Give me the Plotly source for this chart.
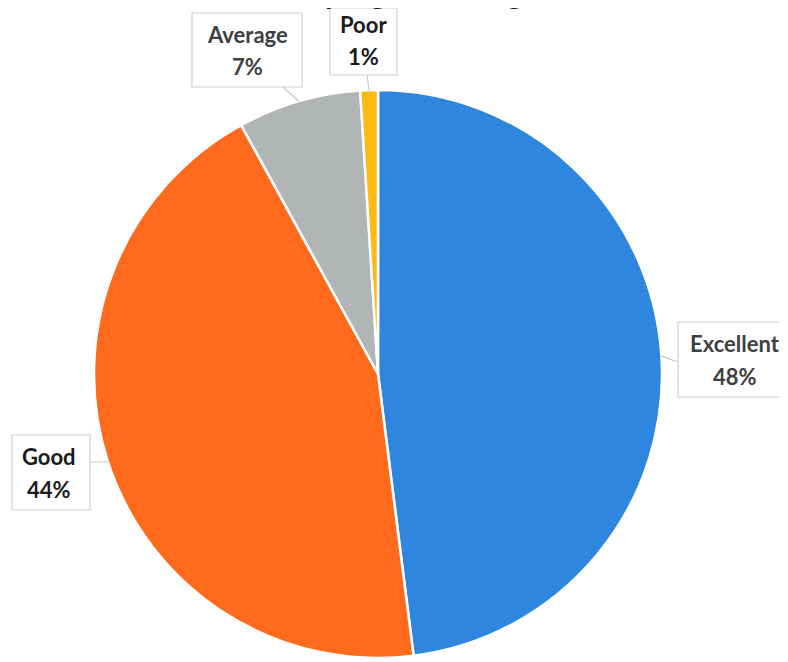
import math
import plotly.graph_objects as go

# the page puts the figure 8px in from the window corner
OFF = 8
W, H = 788 - OFF, 662 - OFF

labels = ["Excellent", "Good", "Average", "Poor"]
values = [48, 44, 7, 1]
pct_text = ["48%", "44%", "7%", "1%"]
colors = ["#2E86DF", "#FF6A1C", "#B2B5B5", "#FFBA12"]
text_colors = ["#404040", "#1A1A1A", "#404040", "#1A1A1A"]

# pie geometry in window pixels (from top-left)
cx, cy, r = 378, 374, 284

# callout boxes: (x0, y0, x1, y1), text centre x, and where the pointer leaves the box
boxes = [(678, 322, 800, 397), (12, 435, 90, 510), (192, 13, 302, 87), (330, 8, 397, 75)]
text_x = [735, 49, 247, 363]
anchors = [(678, 362), (90, 462), (283, 87), (367, 75)]


def px(x):
    return (x - OFF) / W


def py(y):
    return 1 - (y - OFF) / H


fig = go.Figure()

fig.add_trace(go.Pie(
    labels=labels,
    values=values,
    sort=False,
    direction="clockwise",
    rotation=0,
    marker=dict(colors=colors, line=dict(color="white", width=2.5)),
    textinfo="none",
    hoverinfo="label+percent",
    showlegend=False,
    domain=dict(x=[px(cx - r), px(cx + r)], y=[py(cy + r), py(cy - r)]),
))

total = sum(values)
cum = 0
shapes = []
annotations = []
for i, (lab, v) in enumerate(zip(labels, values)):
    theta = 2 * math.pi * (cum + v / 2) / total
    cum += v
    tx = cx + r * math.sin(theta)
    ty = cy - r * math.cos(theta)
    x0, y0, x1, y1 = boxes[i]
    shapes.append(dict(
        type="rect", xref="paper", yref="paper",
        x0=px(x0), x1=px(x1), y0=py(y1), y1=py(y0),
        line=dict(color="#D0D0D0", width=1.2), fillcolor="white", layer="above",
    ))
    ax, ay = anchors[i]
    shapes.append(dict(
        type="line", xref="paper", yref="paper",
        x0=px(ax), y0=py(ay), x1=px(tx), y1=py(ty),
        line=dict(color="#C8C8C8", width=1.2), layer="above",
    ))
    mid = (y0 + y1) / 2 if i != 3 else 40
    for txt, dy in ((lab, -16), (pct_text[i], 17)):
        annotations.append(dict(
            x=px(text_x[i]), y=py(mid + dy), xref="paper", yref="paper",
            xanchor="center", yanchor="middle", text=f"<b>{txt}</b>",
            showarrow=False, font=dict(family="Lato", size=22, color=text_colors[i]),
        ))

# title, mostly cut off by the top edge
annotations.append(dict(
    x=px(372), y=py(12), xref="paper", yref="paper", xanchor="center", yanchor="bottom",
    text="<b>Overall program rating</b>", showarrow=False,
    font=dict(family="Lato", size=30, color="#1A1A1A"),
))

fig.update_layout(
    width=W,
    height=H,
    margin=dict(l=0, r=0, t=0, b=0),
    paper_bgcolor="white",
    plot_bgcolor="white",
    shapes=shapes,
    annotations=annotations,
)

fig.write_html("out.html")
